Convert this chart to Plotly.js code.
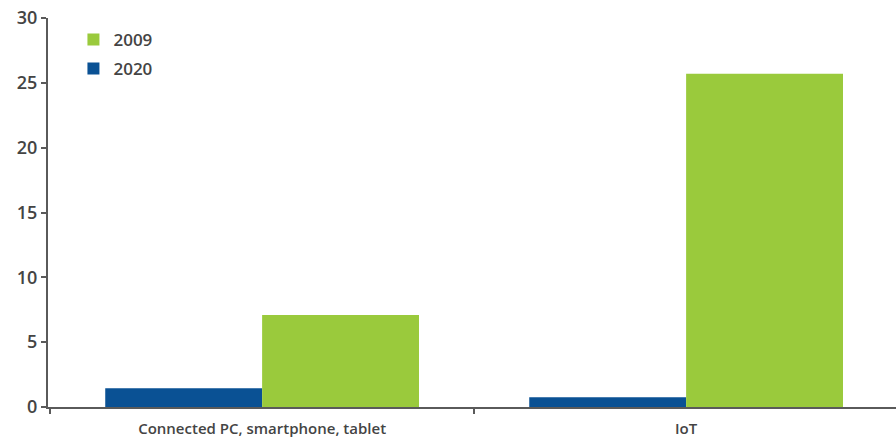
<!DOCTYPE html>
<html>
<head>
<meta charset="utf-8">
<script src="https://cdn.plot.ly/plotly-3.0.1.min.js"></script>
<style>html,body{margin:0;padding:0;background:#fff;}#chart{width:896px;height:437px;}</style>
</head>
<body>
<div id="chart"></div>
<script>
const categories = ["Connected PC, smartphone, tablet", "IoT"];
const seriesNames = ["2020", "2009"];
const values2020 = [1.45, 0.75];
const values2009 = [7.1, 25.7];
const yTicks = [0, 5, 10, 15, 20, 25, 30];

const traces = [
  {type: "bar", name: seriesNames[0], x: categories, y: values2020, legendgroup: "a", legendrank: 2,
   marker: {color: "#0a5194"}},
  {type: "bar", name: seriesNames[1], x: categories, y: values2009, legendgroup: "b", legendrank: 1,
   marker: {color: "#9aca3c"}}
];

const layout = {
  width: 896, height: 437,
  margin: {l: 48, r: 0, t: 18, b: 30, pad: 0},
  paper_bgcolor: "#fff", plot_bgcolor: "#fff",
  barmode: "group", bargap: 0.26, bargroupgap: 0,
  font: {family: "Open Sans, sans-serif", color: "#444", weight: 600},
  showlegend: true,
  legend: {x: 0.03, y: 0.99, xanchor: "left", yanchor: "top",
           traceorder: "grouped", tracegroupgap: 4,
           font: {size: 17, color: "#444", weight: 600},
           bgcolor: "rgba(0,0,0,0)", itemwidth: 30},
  xaxis: {type: "category", range: [-0.505, 1.495], showline: true, linecolor: "#5a5a5a", linewidth: 2,
          ticks: "outside", tickson: "boundaries", ticklen: 5, tickcolor: "#5a5a5a", tickwidth: 2,
          ticklabelstandoff: 7,
          tickfont: {size: 15, color: "#444", weight: 600}, showgrid: false, zeroline: false,
          fixedrange: true},
  yaxis: {range: [0, 30], tickvals: yTicks, showline: true, linecolor: "#5a5a5a", linewidth: 2,
          ticks: "outside", ticklen: 5, tickcolor: "#5a5a5a", tickwidth: 2,
          tickfont: {size: 18, color: "#444", weight: 600}, showgrid: false, zeroline: false,
          fixedrange: true}
};

Plotly.newPlot("chart", traces, layout, {displayModeBar: false, staticPlot: true});
</script>
</body>
</html>
